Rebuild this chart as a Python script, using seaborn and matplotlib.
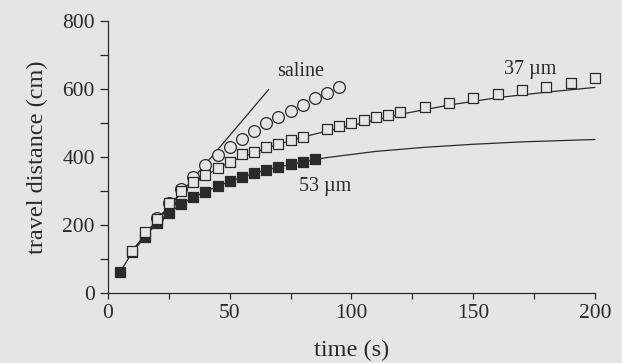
import numpy as np
import pandas as pd
import matplotlib
matplotlib.use('Agg')
import matplotlib.pyplot as plt
import seaborn as sns
from matplotlib.ticker import MultipleLocator

t_53 = [5, 10, 15, 20, 25, 30, 35, 40, 45, 50, 55, 60, 65, 70, 75, 80, 85]
d_53 = [62, 120, 166, 205, 236, 262, 281, 298, 315, 329, 342, 352, 362, 370, 379, 384, 393]

t_37 = [10, 15, 20, 25, 30, 35, 40, 45, 50, 55, 60, 65, 70, 75, 80,
        90, 95, 100, 105, 110, 115, 120, 130, 140, 150, 160, 170, 180, 190, 200]
d_37 = [124, 178, 217, 263, 300, 327, 347, 366, 386, 407, 415, 430, 438, 449, 459,
        481, 491, 498, 508, 516, 523, 533, 546, 559, 572, 585, 596, 606, 618, 631]

t_saline = [20, 25, 30, 35, 40, 45, 50, 55, 60, 65, 70, 75, 80, 85, 90, 95]
d_saline = [219, 265, 305, 342, 376, 405, 430, 451, 476, 498, 518, 535, 552, 572, 588, 604]

# fitted curves
fit_saline_t = [10, 66]
fit_saline_d = [125, 598]
fit_37_t = [10, 20, 30, 40, 50, 60, 70, 80, 90, 100, 120, 140, 160, 180, 200]
fit_37_d = [124, 215, 295, 345, 385, 413, 437, 458, 476, 492, 525, 552, 574, 590, 604]
fit_53_t = [5, 10, 20, 30, 40, 50, 60, 70, 80, 90, 110, 130, 150, 170, 200]
fit_53_d = [62, 120, 205, 262, 298, 328, 352, 370, 385, 398, 416, 428, 437, 444, 451]

bg = '#e5e5e3'
ink = '#2a2a2a'

sns.set_style('ticks')
plt.rcParams['font.family'] = ['Liberation Serif', 'DejaVu Serif']

fig = plt.figure(figsize=(6.22, 3.63), dpi=100, facecolor=bg)
ax = fig.add_axes([0.1736, 0.1928, 0.7830, 0.7502], facecolor=bg)

sns.lineplot(x=fit_saline_t, y=fit_saline_d, ax=ax, color=ink, lw=0.9, sort=False)
sns.lineplot(x=fit_37_t, y=fit_37_d, ax=ax, color=ink, lw=0.9, sort=False)
sns.lineplot(x=fit_53_t, y=fit_53_d, ax=ax, color=ink, lw=0.9, sort=False)
for ln in ax.lines:
    ln.set_clip_on(False)

sns.scatterplot(x=t_saline, y=d_saline, ax=ax, marker='o', s=72,
                facecolor=bg, edgecolor=ink, linewidth=0.9, clip_on=False, zorder=3)
sns.scatterplot(x=t_53, y=d_53, ax=ax, marker='s', s=60,
                facecolor=ink, edgecolor=ink, linewidth=0.9, clip_on=False, zorder=4)
sns.scatterplot(x=t_37, y=d_37, ax=ax, marker='s', s=60,
                facecolor=bg, edgecolor=ink, linewidth=0.9, clip_on=False, zorder=5)

ax.text(79, 652, 'saline', ha='center', va='center', fontsize=14.5, color=ink)
ax.text(173.5, 657, '37 µm', ha='center', va='center', fontsize=14.5, color=ink)
ax.text(89, 312, '53 µm', ha='center', va='center', fontsize=14.5, color=ink)

ax.set_xlim(0, 200)
ax.set_ylim(0, 800)
ax.xaxis.set_major_locator(MultipleLocator(50))
ax.xaxis.set_minor_locator(MultipleLocator(25))
ax.yaxis.set_major_locator(MultipleLocator(200))
ax.yaxis.set_minor_locator(MultipleLocator(100))
ax.tick_params(axis='both', which='both', direction='out', color=ink,
               width=0.9, labelsize=15.5, labelcolor=ink)
ax.tick_params(axis='y', which='both', length=6)
ax.tick_params(axis='x', which='both', length=4.5)
for side in ['left', 'bottom']:
    ax.spines[side].set_color(ink)
    ax.spines[side].set_linewidth(0.9)
sns.despine(ax=ax)

ax.set_xlabel('time (s)', fontsize=17.5, color=ink, labelpad=12)
ax.set_ylabel('travel distance (cm)', fontsize=17.5, color=ink, labelpad=10)

fig.savefig('out.png', dpi=100, facecolor=bg)
